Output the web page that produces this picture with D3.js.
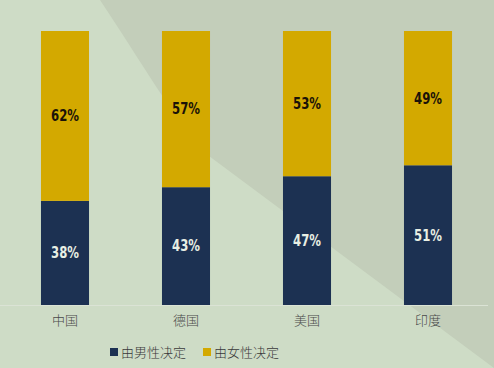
<!DOCTYPE html>
<html><head><meta charset="utf-8">
<script src="https://cdn.jsdelivr.net/npm/d3@7/dist/d3.min.js"></script>
<style>html,body{margin:0;padding:0;background:#cddcc5;}svg{display:block;}</style>
</head><body>
<svg id="chart" width="494" height="368"></svg>
<script>
const categories = ["中国", "德国", "美国", "印度"];
const maleValues = [38, 43, 47, 51];
const femaleValues = [62, 57, 53, 49];
const seriesNames = ["由男性决定", "由女性决定"];
const seriesColors = ["#1c3152", "#d3a900"];

const W = 494, H = 368;
const svg = d3.select("#chart");

// background decoration
svg.append("rect").attr("width", W).attr("height", H).attr("fill", "#cedcc6");
svg.append("path").attr("fill", "#c3ceba")
  .attr("d", "M100,0 L494,0 L494,368 L205,153 C175,120 140,60 100,0 Z");

const x = d3.scaleBand().domain(categories).range([4.5, 488.5])
  .paddingInner(0.603).paddingOuter(0.3015);
const y = d3.scaleLinear().domain([0, 100]).range([305, 31]);

const data = categories.map((c, i) => ({cat: c, male: maleValues[i], female: femaleValues[i]}));
const stack = d3.stack().keys(["male", "female"])(data);

const g = svg.append("g");
stack.forEach((layer, li) => {
  g.selectAll(null).data(layer).enter().append("rect")
    .attr("x", d => x(d.data.cat))
    .attr("width", x.bandwidth())
    .attr("y", d => y(d[1]))
    .attr("height", d => y(d[0]) - y(d[1]))
    .attr("fill", seriesColors[li]);
  g.selectAll(null).data(layer).enter().append("text")
    .attr("transform", d => `translate(${x(d.data.cat) + x.bandwidth() / 2},${(y(d[0]) + y(d[1])) / 2}) scale(0.78,1)`)
    .attr("dy", "0.36em")
    .attr("text-anchor", "middle")
    .attr("font-family", "'DejaVu Sans',sans-serif")
    .attr("font-weight", "bold")
    .attr("font-size", 15)
    .attr("fill", li === 0 ? "#e8efe4" : "#1a1208")
    .text(d => (d[1] - d[0]) + "%");
});

// x axis
const xAxis = svg.append("g").attr("transform", "translate(0,305)")
  .call(d3.axisBottom(x).tickSize(0).tickPadding(11));
xAxis.select(".domain").attr("d", "M0,0.5H488").attr("stroke", "#dbe3d5").attr("stroke-width", 1.2);
xAxis.selectAll("text").attr("font-family", "'Noto Sans CJK SC',sans-serif")
  .attr("font-size", 13).attr("fill", "#4a4a4a").attr("font-weight", 300);

// legend
const legendItems = [{x: 110}, {x: 203}];
const lg = svg.append("g");
seriesNames.forEach((n, i) => {
  const it = lg.append("g").attr("transform", `translate(${legendItems[i].x},352)`);
  it.append("rect").attr("x", 0).attr("y", -4).attr("width", 8).attr("height", 8).attr("fill", seriesColors[i]);
  it.append("text").attr("x", 11).attr("y", 0).attr("dy", "0.36em")
    .attr("font-family", "'Noto Sans CJK SC',sans-serif").attr("font-size", 13)
    .attr("font-weight", 300).attr("fill", "#3a3a3a").text(n);
});
</script>
</body></html>
